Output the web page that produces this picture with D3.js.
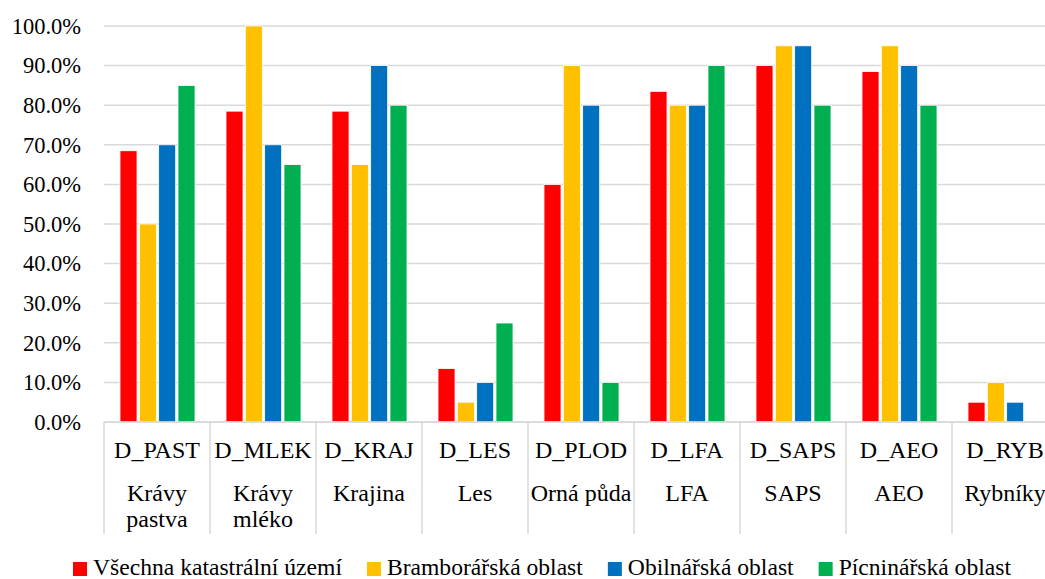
<!DOCTYPE html>
<html>
<head>
<meta charset="utf-8">
<script src="https://cdn.jsdelivr.net/npm/d3@7"></script>
<style>
  body { margin: 0; background: #fff; }
</style>
</head>
<body>
<svg id="chart"></svg>
<script>
// kategorie (kód + popis)
const codes = ["D_PAST", "D_MLEK", "D_KRAJ", "D_LES", "D_PLOD", "D_LFA", "D_SAPS", "D_AEO", "D_RYB"];
const names = [["Krávy", "pastva"], ["Krávy", "mléko"], ["Krajina"], ["Les"], ["Orná půda"], ["LFA"], ["SAPS"], ["AEO"], ["Rybníky"]];

// řady
const seriesNames = ["Všechna katastrální území", "Bramborářská oblast", "Obilnářská oblast", "Pícninářská oblast"];
const seriesColors = ["#FF0000", "#FFC000", "#0070C0", "#00B050"];

const vsechna = [68.5, 78.5, 78.5, 13.5, 60, 83.5, 90, 88.5, 5];
const brambor = [50, 100, 65, 5, 90, 80, 95, 95, 10];
const obilnar = [70, 70, 90, 10, 80, 80, 95, 90, 5];
const picninar = [85, 65, 80, 25, 10, 90, 80, 80, 0];
const seriesValues = [vsechna, brambor, obilnar, picninar];

const yTicks = [0, 10, 20, 30, 40, 50, 60, 70, 80, 90, 100];

const W = 1045, H = 579;
const plotLeft = 104, catW = 106, plotTop = 26, plotBottom = 422;
const FONT = "'Liberation Serif', 'Times New Roman', Times, serif";

const svg = d3.select("#chart").attr("width", W).attr("height", H)
    .attr("font-family", FONT);

const x0 = d3.scaleBand().domain(codes).range([plotLeft, plotLeft + catW * codes.length]);
const x1 = d3.scaleBand().domain(d3.range(seriesNames.length)).range([16, 91]).paddingInner(0.12);
const y = d3.scaleLinear().domain([0, 100]).range([plotBottom, plotTop]);

// mřížka
svg.append("g").selectAll("line")
    .data(yTicks)
    .enter().append("line")
    .attr("x1", plotLeft).attr("x2", W)
    .attr("y1", d => y(d)).attr("y2", d => y(d))
    .style("stroke", "#d9d9d9")
    .style("stroke-width", 1.5);

// popisky osy Y
svg.append("g").selectAll("text")
    .data(yTicks)
    .enter().append("text")
    .attr("x", 81)
    .attr("y", d => y(d))
    .attr("dy", "0.35em")
    .attr("text-anchor", "end")
    .attr("font-family", FONT)
    .style("font-size", "22.5px")
    .text(d => d.toFixed(1) + "%");

// sloupce
const groups = svg.append("g").selectAll("g")
    .data(codes)
    .enter().append("g")
    .attr("transform", d => `translate(${x0(d)},0)`);

groups.selectAll("rect")
    .data((d, i) => seriesValues.map((s, k) => ({ k: k, v: s[i] })))
    .enter().append("rect")
    .attr("x", d => x1(d.k))
    .attr("width", x1.bandwidth())
    .attr("y", d => y(d.v))
    .attr("height", d => y(0) - y(d.v))
    .style("fill", d => seriesColors[d.k])
    .style("stroke", "#fff")
    .style("stroke-width", 0.8);

// osa X a oddělovače kategorií
svg.append("line")
    .attr("x1", plotLeft).attr("x2", W)
    .attr("y1", plotBottom).attr("y2", plotBottom)
    .style("stroke", "#d9d9d9").style("stroke-width", 1.5);

svg.append("g").selectAll("line")
    .data(d3.range(codes.length + 1))
    .enter().append("line")
    .attr("x1", i => plotLeft + i * catW).attr("x2", i => plotLeft + i * catW)
    .attr("y1", plotBottom).attr("y2", 534)
    .style("stroke", "#d9d9d9").style("stroke-width", 1.5);

// popisky kategorií
svg.append("g").selectAll("text")
    .data(codes)
    .enter().append("text")
    .attr("x", d => x0(d) + catW / 2)
    .attr("y", 458)
    .attr("text-anchor", "middle")
    .attr("font-family", FONT)
    .style("font-size", "24px")
    .text(d => d);

const nameText = svg.append("g").selectAll("text")
    .data(names)
    .enter().append("text")
    .attr("x", (d, i) => x0(codes[i]) + catW / 2)
    .attr("y", 501)
    .attr("text-anchor", "middle")
    .attr("font-family", FONT)
    .style("font-size", "24px");

nameText.selectAll("tspan")
    .data(d => d)
    .enter().append("tspan")
    .attr("x", function () { return d3.select(this.parentNode).attr("x"); })
    .attr("dy", (d, i) => i === 0 ? 0 : 26)
    .text(d => d);

// legenda
const legend = svg.append("g");
let lx = 73;
seriesNames.forEach((name, k) => {
    legend.append("rect")
        .attr("x", lx).attr("y", 562)
        .attr("width", 14).attr("height", 14)
        .style("fill", seriesColors[k]);
    const t = legend.append("text")
        .attr("x", lx + 20).attr("y", 575)
        .attr("font-family", FONT)
        .style("font-size", "23.6px")
        .text(name);
    lx += 20 + t.node().getComputedTextLength() + 25;
});
</script>
</body>
</html>
